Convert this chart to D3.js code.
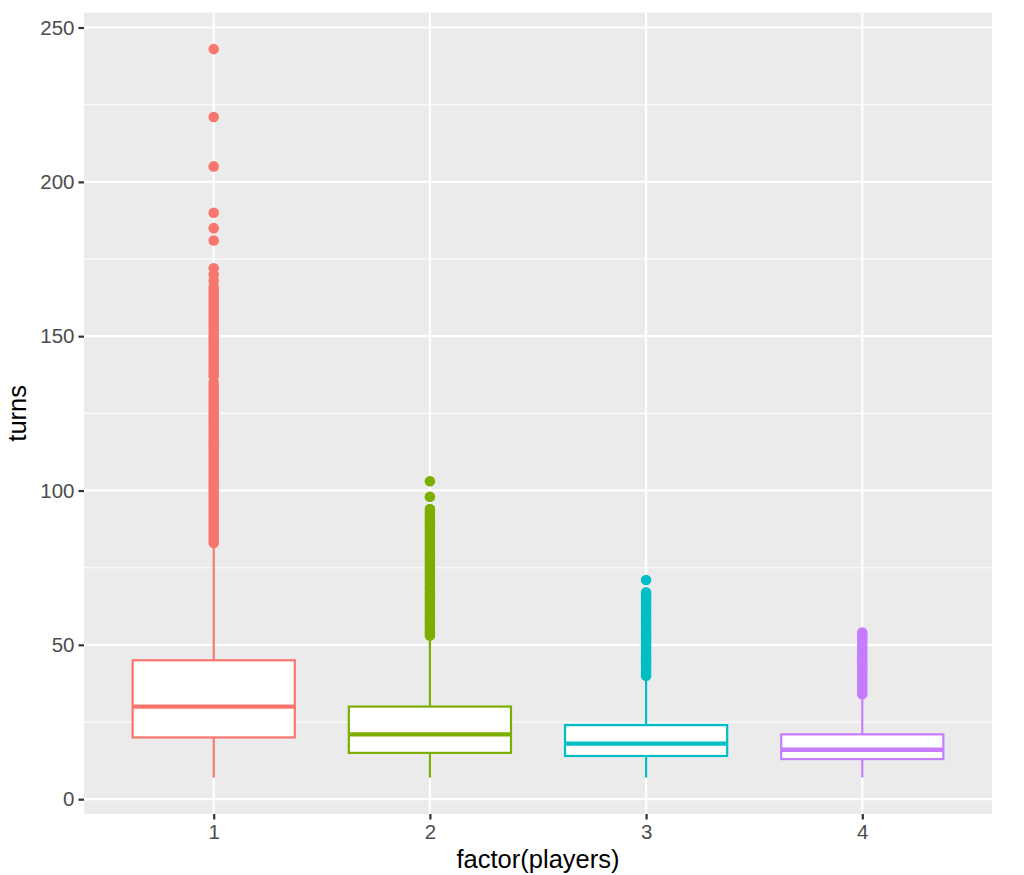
<!DOCTYPE html>
<html>
<head>
<meta charset="utf-8">
<script src="https://cdn.jsdelivr.net/npm/d3@7"></script>
<style>
  body { margin: 0; background: #fff; }
  svg { display: block; font-family: "Liberation Sans", Arial, sans-serif; }
</style>
</head>
<body>
<div id="chart"></div>
<script>
// summary stats per group
const players = ["1", "2", "3", "4"];
const whiskerLow = [7, 7, 7, 7];
const q1 = [20, 15, 14, 13];
const median = [30, 21, 18, 16];
const q3 = [45, 30, 24, 21];
const whiskerHigh = [82, 52, 39, 33];

const outliers1 = [83, 84, 85, 86, 87, 88, 89, 90, 91, 92, 93, 94, 95, 96, 97, 98, 99, 100,
  101, 102, 103, 104, 105, 106, 107, 108, 109, 110, 111, 112, 113, 114, 115, 116, 117, 118,
  119, 120, 121, 122, 123, 124, 125, 126, 127, 128, 129, 130, 131, 132, 133, 134, 135, 137,
  138, 139, 140, 141, 142, 143, 144, 145, 146, 147, 148, 149, 150, 151, 152, 153, 154, 155,
  156, 157, 158, 159, 160, 161, 162, 163, 164, 165, 166, 168, 170, 172, 181, 185, 190, 205,
  221, 243];
const outliers2 = [53, 54, 55, 56, 57, 58, 59, 60, 61, 62, 63, 64, 65, 66, 67, 68, 69, 70,
  71, 72, 73, 74, 75, 76, 77, 78, 79, 80, 81, 82, 83, 84, 85, 86, 87, 88, 89, 90, 91, 92,
  93, 94, 98, 103];
const outliers3 = [40, 41, 42, 43, 44, 45, 46, 47, 48, 49, 50, 51, 52, 53, 54, 55, 56, 57,
  58, 59, 60, 61, 62, 63, 64, 65, 66, 67, 71];
const outliers4 = [34, 35, 36, 37, 38, 39, 40, 41, 42, 43, 44, 45, 46, 47, 48, 49, 50, 51,
  52, 53, 54];

const yTicks = [0, 50, 100, 150, 200, 250];
const yMinor = [25, 75, 125, 175, 225];
const colors = ["#F8766D", "#7CAE00", "#00BFC4", "#C77CFF"];

const outliers = [outliers1, outliers2, outliers3, outliers4];
const groups = players.map((p, i) => ({
  key: p, lo: whiskerLow[i], q1: q1[i], med: median[i], q3: q3[i], hi: whiskerHigh[i],
  out: outliers[i], color: colors[i]
}));

const width = 1024, height = 875;
const panel = {left: 84, right: 992, top: 12.7, bottom: 814};

const svg = d3.select("#chart").append("svg")
  .attr("width", width)
  .attr("height", height);

// ggplot style expansion: 5% of the data range on y
const yMin = 7, yMax = 243, pad = (yMax - yMin) * 0.05;
const y = d3.scaleLinear()
  .domain([yMin - pad, yMax + pad])
  .range([panel.bottom, panel.top]);

const x = d3.scalePoint()
  .domain(players)
  .range([panel.left, panel.right])
  .padding(0.6);
const boxW = x.step() * 0.75;

// panel background
svg.append("rect")
  .attr("x", panel.left).attr("y", panel.top)
  .attr("width", panel.right - panel.left)
  .attr("height", panel.bottom - panel.top)
  .attr("fill", "#EBEBEB");

// grid
svg.selectAll(".minor").data(yMinor).enter().append("line")
  .attr("x1", panel.left).attr("x2", panel.right)
  .attr("y1", d => y(d)).attr("y2", d => y(d))
  .attr("stroke", "#fff").attr("stroke-width", 1.1);
svg.selectAll(".major").data(yTicks).enter().append("line")
  .attr("x1", panel.left).attr("x2", panel.right)
  .attr("y1", d => y(d)).attr("y2", d => y(d))
  .attr("stroke", "#fff").attr("stroke-width", 2.2);
svg.selectAll(".vmajor").data(players).enter().append("line")
  .attr("x1", d => x(d)).attr("x2", d => x(d))
  .attr("y1", panel.top).attr("y2", panel.bottom)
  .attr("stroke", "#fff").attr("stroke-width", 2.2);

// boxes
const g = svg.selectAll(".box").data(groups).enter().append("g");

g.append("line")
  .attr("x1", d => x(d.key)).attr("x2", d => x(d.key))
  .attr("y1", d => y(d.q3)).attr("y2", d => y(d.hi))
  .attr("stroke", d => d.color).attr("stroke-width", 2.2);
g.append("line")
  .attr("x1", d => x(d.key)).attr("x2", d => x(d.key))
  .attr("y1", d => y(d.q1)).attr("y2", d => y(d.lo))
  .attr("stroke", d => d.color).attr("stroke-width", 2.2);

g.append("rect")
  .attr("x", d => x(d.key) - boxW / 2)
  .attr("width", boxW)
  .attr("y", d => y(d.q3))
  .attr("height", d => y(d.q1) - y(d.q3))
  .attr("fill", "#fff")
  .attr("stroke", d => d.color).attr("stroke-width", 2.2);

g.append("line")
  .attr("x1", d => x(d.key) - boxW / 2).attr("x2", d => x(d.key) + boxW / 2)
  .attr("y1", d => y(d.med)).attr("y2", d => y(d.med))
  .attr("stroke", d => d.color).attr("stroke-width", 4.4);

g.each(function(d) {
  d3.select(this).selectAll("circle").data(d.out).enter().append("circle")
    .attr("cx", x(d.key))
    .attr("cy", v => y(v))
    .attr("r", 5.3)
    .attr("fill", d.color);
});

// axes
const yAxis = svg.append("g").attr("transform", "translate(" + panel.left + ",0)")
  .call(d3.axisLeft(y).tickValues(yTicks).tickSize(5.5).tickPadding(4));
const xAxis = svg.append("g").attr("transform", "translate(0," + panel.bottom + ")")
  .call(d3.axisBottom(x).tickSize(5.5).tickPadding(5));
[yAxis, xAxis].forEach(a => {
  a.select(".domain").remove();
  a.selectAll(".tick line").attr("stroke", "#333").attr("stroke-width", 2.2);
  a.selectAll(".tick text").attr("fill", "#4D4D4D")
    .style("font-size", "20.5px").style("font-family", "Liberation Sans, Arial, sans-serif");
});

// axis titles
svg.append("text")
  .attr("x", (panel.left + panel.right) / 2)
  .attr("y", 868)
  .attr("text-anchor", "middle")
  .style("font-size", "25.5px")
  .text("factor(players)");

svg.append("text")
  .attr("transform", "translate(26," + (panel.top + panel.bottom) / 2 + ") rotate(-90)")
  .attr("text-anchor", "middle")
  .style("font-size", "25.5px")
  .text("turns");
</script>
</body>
</html>
